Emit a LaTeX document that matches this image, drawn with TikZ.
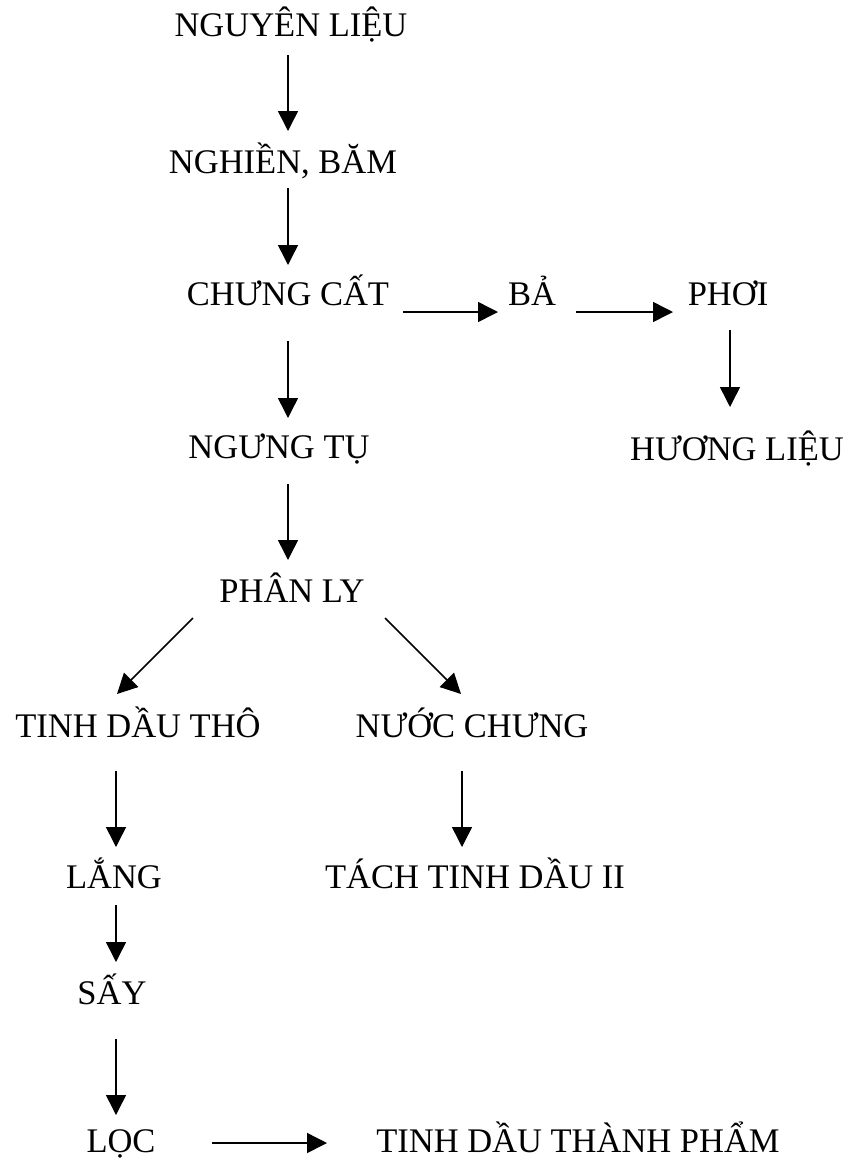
\documentclass[tikz,border=0pt]{standalone}
\usepackage{fontspec}
\setmainfont{Liberation Serif}
\usetikzlibrary{arrows.meta,calc}

\tikzset{
  label/.style={anchor=base, inner sep=0pt, font=\fontsize{34.5}{40}\selectfont},
  flow/.style={line width=1.5pt, -{Triangle[length=20pt,width=20pt]}}
}

\begin{document}
\begin{tikzpicture}[x=1pt,y=-1pt]
  \path[use as bounding box, fill=white] (0,0) rectangle (856,1160);

  % process steps
  \node[label] (nguyen) at (291,36)   {NGUYÊN LIỆU};
  \node[label] (nghien) at (283,173)  {NGHIỀN, BĂM};
  \node[label] (chung)  at (288,305)  {CHƯNG CẤT};
  \node[label] (ba)     at (532,305)  {BẢ};
  \node[label] (phoi)   at (728,305)  {PHƠI};
  \node[label] (huong)  at (737,460)  {HƯƠNG LIỆU};
  \node[label] (ngung)  at (279,458)  {NGƯNG TỤ};
  \node[label] (phanly) at (292,602)  {PHÂN LY};
  \node[label] (tdtho)  at (138,737)  {TINH DẦU THÔ};
  \node[label] (nuoc)   at (472,737)  {NƯỚC CHƯNG};
  \node[label] (lang)   at (114,888)  {LẮNG};
  \node[label] (tach)   at (475,888)  {TÁCH TINH DẦU II};
  \node[label] (say)    at (112,1004) {SẤY};
  \node[label] (loc)    at (121,1152) {LỌC};
  \node[label] (thanh)  at (578,1152) {TINH DẦU THÀNH PHẨM};

  % main line
  \draw[flow] ($(nguyen.base)+(-3,19)$) -- ($(nghien.base)+(5,-42)$);
  \draw[flow] ($(nghien.base)+(5,15)$)  -- ($(chung.base)+(0,-40)$);
  \draw[flow] ($(chung.base)+(0,36)$)   -- ($(ngung.base)+(9,-40)$);
  \draw[flow] ($(ngung.base)+(9,26)$)   -- ($(phanly.base)+(-4,-42)$);

  % residue branch
  \draw[flow] ($(chung.base)+(115,7)$)  -- ($(ba.base)+(-34,7)$);
  \draw[flow] ($(ba.base)+(44,7)$)      -- ($(phoi.base)+(-55,7)$);
  \draw[flow] ($(phoi.base)+(2,25)$)    -- ($(huong.base)+(-7,-53)$);

  % separation
  \draw[flow] ($(phanly.base)+(-99,16)$) -- ($(tdtho.base)+(-21,-43)$);
  \draw[flow] ($(phanly.base)+(93,16)$)  -- ($(nuoc.base)+(-11,-43)$);
  \draw[flow] ($(nuoc.base)+(-10,34)$)   -- ($(tach.base)+(-13,-41)$);

  % crude oil finishing
  \draw[flow] ($(tdtho.base)+(-22,34)$) -- ($(lang.base)+(2,-41)$);
  \draw[flow] ($(lang.base)+(2,17)$)    -- ($(say.base)+(4,-42)$);
  \draw[flow] ($(say.base)+(4,35)$)     -- ($(loc.base)+(-5,-37)$);
  \draw[flow] ($(loc.base)+(91,-9)$)    -- ($(thanh.base)+(-251,-9)$);
\end{tikzpicture}
\end{document}
